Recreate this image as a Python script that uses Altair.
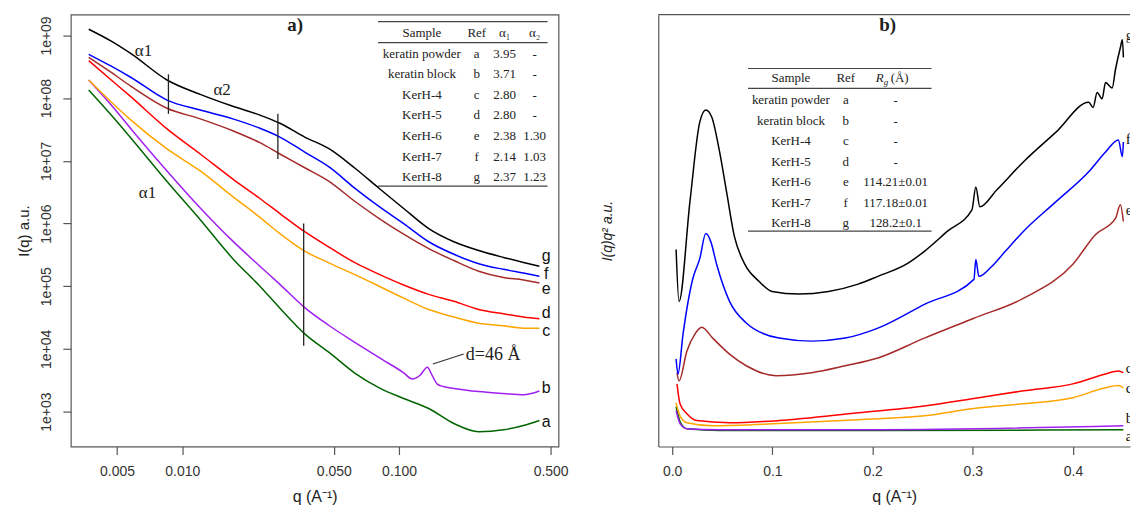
import altair as alt
import pandas as pd

# ---------------- shared ----------------
refs = ["a", "b", "c", "d", "e", "f", "g"]
colors = ["#006400", "#A020F0", "#FFA500", "#FF0000", "#A52A2A", "#0000FF", "#000000"]
samples = ["keratin powder", "keratin block", "KerH-4", "KerH-5", "KerH-6", "KerH-7", "KerH-8"]
alpha1 = ["3.95", "3.71", "2.80", "2.80", "2.38", "2.14", "2.37"]
alpha2 = ["-", "-", "-", "-", "1.30", "1.03", "1.23"]
rg = ["-", "-", "-", "-", "114.21±0.01", "117.18±0.01", "128.2±0.1"]

# ---------------- panel a : log-log I(q) ----------------
q_a = [0.0037, 0.0047, 0.0058, 0.0085, 0.0121, 0.0171, 0.0228, 0.0282, 0.0367, 0.0477,
       0.0622, 0.081, 0.105, 0.137, 0.179, 0.233, 0.303, 0.375, 0.444]
logI_a = {
    "g": [9.10, 8.91, 8.71, 8.29, 8.06, 7.87, 7.73, 7.60, 7.38, 7.19, 6.89, 6.56, 6.24, 5.92, 5.71, 5.57, 5.46, 5.38, 5.32],
    "f": [8.70, 8.51, 8.33, 7.97, 7.81, 7.67, 7.52, 7.38, 7.14, 6.90, 6.57, 6.27, 6.00, 5.71, 5.51, 5.36, 5.27, 5.21, 5.16],
    "e": [8.65, 8.41, 8.19, 7.84, 7.67, 7.48, 7.29, 7.11, 6.89, 6.67, 6.36, 6.08, 5.83, 5.60, 5.41, 5.24, 5.14, 5.10, 5.05],
    "d": [8.60, 8.29, 8.02, 7.51, 7.11, 6.71, 6.40, 6.16, 5.87, 5.62, 5.38, 5.19, 5.02, 4.87, 4.76, 4.63, 4.56, 4.51, 4.48],
    "c": [8.29, 7.94, 7.65, 7.19, 6.84, 6.43, 6.10, 5.84, 5.56, 5.37, 5.19, 5.00, 4.81, 4.63, 4.51, 4.41, 4.37, 4.33, 4.33],
    "a": [8.13, 7.73, 7.36, 6.67, 6.06, 5.44, 5.00, 4.65, 4.24, 3.94, 3.62, 3.38, 3.21, 3.05, 2.81, 2.68, 2.71, 2.78, 2.86],
}
q_a_b = [0.0037, 0.0047, 0.0058, 0.0085, 0.0121, 0.0171, 0.0228, 0.0282, 0.0367, 0.0477, 0.0622,
         0.081, 0.105, 0.115, 0.125, 0.135, 0.142, 0.150, 0.160, 0.179, 0.233, 0.303, 0.375, 0.444]
logI_a_b = [8.29, 7.89, 7.51, 6.84, 6.25, 5.72, 5.32, 5.03, 4.66, 4.37, 4.11,
            3.86, 3.62, 3.52, 3.58, 3.71, 3.58, 3.44, 3.40, 3.37, 3.32, 3.29, 3.27, 3.33]

# end labels of panel a (log10 I)
lab_a_q = 0.4775
lab_a_logI = [2.83, 3.38, 4.29, 4.57, 4.95, 5.19, 5.49]

# vertical markers (q, log10 I from, log10 I to)
vl_q = [0.00863, 0.0276, 0.0363]
vl_lo = [8.38, 7.75, 6.00]
vl_hi = [7.75, 7.03, 4.05]

# exponent labels
alab_t = ["α1", "α2", "α1"]
alab_q = [0.00662, 0.01526, 0.00691]
alab_logI = [8.76, 8.13, 6.48]

# ---------------- panel b : Kratky ----------------
b_q = {
    "g": [0.004, 0.0069, 0.0178, 0.0276, 0.0336, 0.0395, 0.0474, 0.0543, 0.0622, 0.0721, 0.0869, 0.0997,
          0.1264, 0.156, 0.1856, 0.2053, 0.235, 0.2517, 0.2744, 0.2991, 0.303, 0.307, 0.3238, 0.3504,
          0.383, 0.4156, 0.42, 0.424, 0.429, 0.4324, 0.439, 0.4423, 0.4472, 0.4492, 0.4502],
    "f": [0.004, 0.0059, 0.0109, 0.0207, 0.0276, 0.0336, 0.0385, 0.0444, 0.0573, 0.074, 0.1066, 0.1392,
          0.1728, 0.2053, 0.2517, 0.3011, 0.303, 0.306, 0.318, 0.3324, 0.3504, 0.383, 0.4156, 0.4324,
          0.4452, 0.4492, 0.4502],
    "e": [0.0049, 0.0069, 0.0148, 0.0227, 0.0296, 0.0405, 0.0573, 0.074, 0.1037, 0.1392, 0.1728, 0.2053,
          0.2517, 0.3011, 0.3504, 0.3998, 0.4225, 0.4423, 0.4472, 0.4502],
    "d": [0.0049, 0.0079, 0.0148, 0.0247, 0.0573, 0.1066, 0.1856, 0.2517, 0.3011, 0.3504, 0.3998, 0.4324,
          0.4452, 0.4502],
    "c": [0.004, 0.0079, 0.0148, 0.0405, 0.1066, 0.1856, 0.2517, 0.3011, 0.3504, 0.3998, 0.4324, 0.4452,
          0.4502],
    "b": [0.004, 0.0079, 0.0148, 0.0474, 0.2053, 0.4502],
    "a": [0.004, 0.0079, 0.0148, 0.0474, 0.2053, 0.4502],
}
b_v = {
    "g": [45.6, 33.6, 56.7, 75.1, 77.9, 76.3, 68.2, 59.0, 48.6, 42.4, 38.2, 35.9,
          35.3, 35.9, 37.6, 39.4, 42.4, 45.2, 49.8, 54.8, 60.1, 55.5, 59.4, 65.9,
          72.8, 79.7, 78.5, 82.0, 80.5, 84.3, 83.0, 87.3, 92.4, 94.2, 90.1],
    "f": [20.3, 16.8, 26.0, 38.9, 43.5, 49.3, 47.5, 42.2, 33.6, 28.6, 25.1, 24.4,
          25.1, 27.4, 32.9, 38.7, 43.3, 39.4, 41.5, 45.2, 49.8, 56.7, 63.6, 68.2,
          71.0, 67.1, 70.5],
    "e": [17.1, 15.2, 22.1, 26.0, 27.6, 25.1, 21.4, 18.7, 16.4, 17.1, 18.7, 20.5,
          25.1, 29.7, 34.3, 42.2, 49.1, 52.8, 56.0, 52.1],
    "d": [14.5, 9.9, 7.6, 6.0, 5.5, 6.0, 7.8, 9.4, 11.1, 12.9, 14.5, 16.8, 17.5, 17.1],
    "c": [10.1, 7.1, 5.5, 4.8, 5.3, 6.2, 7.1, 8.8, 9.9, 11.3, 13.6, 14.1, 13.6],
    "b": [8.3, 5.3, 4.1, 3.9, 3.9, 4.8],
    "a": [9.2, 5.8, 4.1, 3.7, 3.7, 3.9],
}
lab_b_q = 0.4525
lab_b_v = [2.4, 6.6, 13.6, 18.2, 54.8, 71.2, 95.2]

# ---------------- build tables ----------------
rows = []
for r in refs:
    qs, ls = (q_a_b, logI_a_b) if r == "b" else (q_a, logI_a[r])
    for i, (q, l) in enumerate(zip(qs, ls)):
        rows.append({"ref": r, "q": q, "I": 10 ** l, "o": i})
df_a = pd.DataFrame(rows)

rows = []
for r in refs:
    for i, (q, v) in enumerate(zip(b_q[r], b_v[r])):
        rows.append({"ref": r, "q": q, "v": v, "o": i})
df_b = pd.DataFrame(rows)

color_enc = alt.Color("ref:N", scale=alt.Scale(domain=refs, range=colors), legend=None)

SERIF = "Liberation Serif"
SANS = "Liberation Sans"
TXT = "#222222"
LINE = "#555555"

# ---------------- panel a ----------------
WA, HA = 489, 433
xa = alt.X("q:Q", scale=alt.Scale(type="log", domain=[0.00306, 0.544], nice=False),
           axis=alt.Axis(values=[0.005, 0.01, 0.05, 0.1, 0.5], format=".3f", tickSize=8,
                         labelPadding=10, labelFontSize=14, domain=False,
                         title="q (A⁻¹)", titleFontSize=16, titlePadding=10))
ya = alt.Y("I:Q", scale=alt.Scale(type="log", domain=[278, 2.15e9], nice=False),
           axis=alt.Axis(values=[1e3, 1e4, 1e5, 1e6, 1e7, 1e8, 1e9],
                         labelExpr="'1e+0' + format(log(datum.value)/LN10, '.0f')",
                         labelAngle=-90, labelAlign="center", labelBaseline="bottom",
                         tickSize=8, labelPadding=9, labelFontSize=14, domain=False,
                         title="I(q) a.u.", titleFontSize=15, titlePadding=8))

lines_a = alt.Chart(df_a).mark_line(strokeWidth=1.5, interpolate="monotone").encode(
    x=xa, y=ya, color=color_enc, detail="ref:N", order="o:Q")

df_vl = pd.DataFrame({"q": vl_q, "y1": [10 ** v for v in vl_lo], "y2": [10 ** v for v in vl_hi]})
vlines = alt.Chart(df_vl).mark_rule(color="#222222", strokeWidth=1.3).encode(
    x="q:Q", y="y1:Q", y2="y2:Q")

df_al = pd.DataFrame({"t": alab_t, "q": alab_q, "I": [10 ** v for v in alab_logI]})
alabels = alt.Chart(df_al).mark_text(font=SERIF, fontSize=17, color=TXT).encode(
    x="q:Q", y="I:Q", text="t:N")

df_d = pd.DataFrame({"q": [0.1432], "q2": [0.1986], "I": [10 ** 3.76], "I2": [10 ** 3.92]})
dline = alt.Chart(df_d).mark_rule(color="#333333", strokeWidth=1.2).encode(
    x="q:Q", x2="q2:Q", y="I:Q", y2="I2:Q")
df_dt = pd.DataFrame({"q": [0.2033], "I": [10 ** 3.90], "t": ["d=46 Å"]})
dtext = alt.Chart(df_dt).mark_text(font=SERIF, fontSize=18, align="left", color=TXT).encode(
    x="q:Q", y="I:Q", text="t:N")

df_la = pd.DataFrame({"ref": refs, "q": [lab_a_q] * 7, "I": [10 ** v for v in lab_a_logI]})
endlab_a = alt.Chart(df_la).mark_text(font=SANS, fontSize=16, color="#111111").encode(
    x="q:Q", y="I:Q", text="ref:N")


def one(text, x, y, font=SERIF, size=13, align="center", weight="normal", style="normal", lh=20.7):
    d = pd.DataFrame({"t": [text]})
    return alt.Chart(d).mark_text(font=font, fontSize=size, align=align, baseline="middle",
                                  fontWeight=weight, fontStyle=style, color=TXT,
                                  lineBreak="\n", lineHeight=lh).encode(
        x=alt.value(x), y=alt.value(y), text="t:N")


def hrule(x1, x2, y, color="#444444"):
    d = pd.DataFrame({"k": [0]})
    return alt.Chart(d).mark_rule(color=color, strokeWidth=1.2).encode(
        x=alt.value(x1), x2=alt.value(x2), y=alt.value(y))


tab_a = [
    hrule(308, 478, 7), hrule(308, 478, 28), hrule(308, 478, 172),
    one("Sample", 352, 18), one("Ref", 407, 18), one("α₁", 435, 18), one("α₂", 465, 18),
    one("\n".join(samples), 352, 39),
    one("\n".join(refs), 407, 39),
    one("\n".join(alpha1), 435, 39),
    one("\n".join(alpha2), 465, 39),
    one("a)", 225, 10, size=19, weight="bold"),
]

chart_a = alt.layer(lines_a, vlines, alabels, dline, dtext, endlab_a, *tab_a).properties(
    width=WA, height=HA, view=alt.ViewBackground(stroke=LINE, strokeWidth=1.2))

# ---------------- panel b ----------------
WB, HB = 473, 433
xb = alt.X("q:Q", scale=alt.Scale(domain=[-0.0138, 0.4568], nice=False, zero=False),
           axis=alt.Axis(values=[0, 0.1, 0.2, 0.3, 0.4], format=".1f", tickSize=8,
                         labelPadding=10, labelFontSize=14, domain=True,
                         title="q (A⁻¹)", titleFontSize=16, titlePadding=10))
yb = alt.Y("v:Q", scale=alt.Scale(domain=[0, 100], nice=False),
           axis=alt.Axis(ticks=False, labels=False, domain=True, minExtent=0, maxExtent=0,
                         title="I(q)q² a.u.", titleFontSize=14, titleFontStyle="italic",
                         titlePadding=44))

lines_b = alt.Chart(df_b).mark_line(strokeWidth=1.5, interpolate="monotone").encode(
    x=xb, y=yb, color=color_enc, detail="ref:N", order="o:Q")

df_lb = pd.DataFrame({"ref": refs, "q": [lab_b_q] * 7, "v": lab_b_v})
endlab_b = alt.Chart(df_lb).mark_text(font=SERIF, fontSize=15, align="left", color="#111111",
                                      clip=True).encode(x="q:Q", y="v:Q", text="ref:N")

top_b = hrule(0, WB, 0, color=LINE)

tab_b = [
    hrule(90, 274, 54), hrule(90, 274, 74), hrule(90, 274, 217),
    one("Sample", 133, 64), one("Ref", 188, 64),
    one("R", 226, 64, style="italic", align="right"),
    one("g", 226, 68, size=9, style="italic", align="left"),
    one("(Å)", 233, 64, align="left"),
    one("\n".join(samples), 133, 86, lh=20.5),
    one("\n".join(refs), 188, 86, lh=20.5),
    one("\n".join(rg), 238, 86, lh=20.5),
    one("b)", 230, 10, size=19, weight="bold"),
]

chart_b = alt.layer(lines_b, endlab_b, top_b, *tab_b).properties(
    width=WB, height=HB, view=alt.ViewBackground(stroke="transparent"))

chart = alt.hconcat(chart_a, chart_b, spacing=30).properties(
    padding={"left": 8, "top": 4, "right": 0, "bottom": 0},
    background="white",
).configure_axis(
    labelFont=SANS, titleFont=SANS, labelColor="#333333", titleColor="#222222",
    domainColor=LINE, tickColor=LINE, domainWidth=1.2, tickWidth=1.2, grid=False,
    titleFontWeight="normal",
)

chart.save("out.html", embed_options={"renderer": "svg", "actions": False})
